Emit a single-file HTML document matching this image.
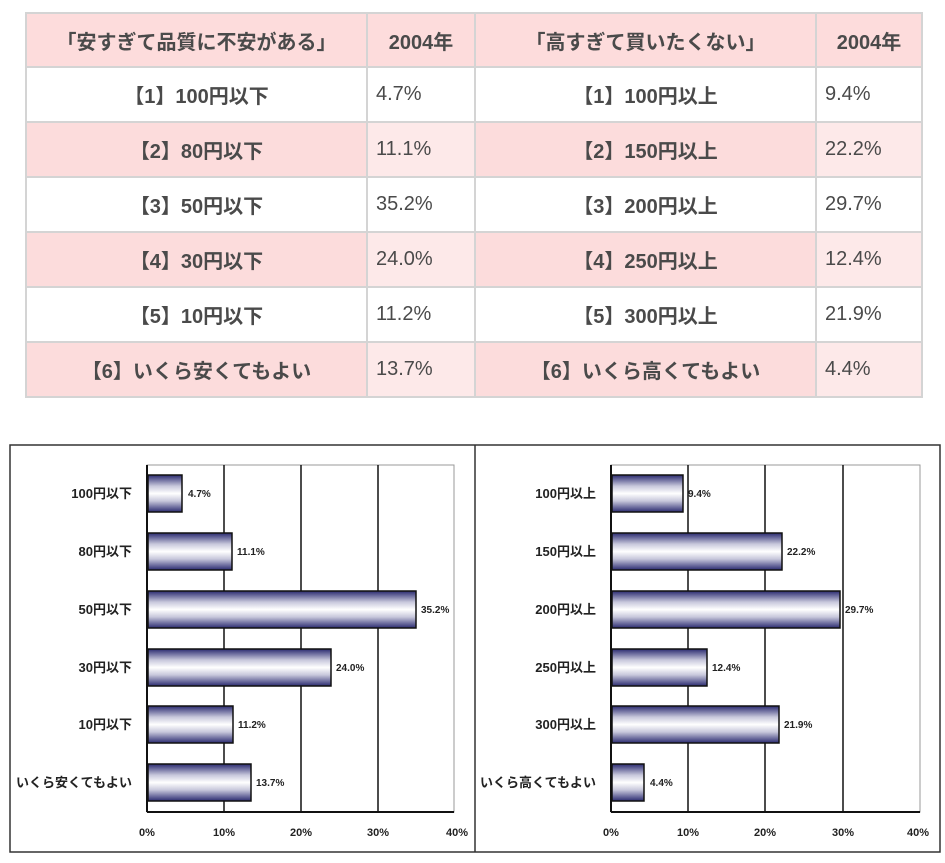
<!DOCTYPE html>
<html><head><meta charset="utf-8"><style>
body{margin:0;width:945px;height:863px;background:#fff;position:relative;overflow:hidden;font-family:"Liberation Sans","Noto Sans CJK JP",sans-serif;}
table{position:absolute;left:25px;top:12px;border-collapse:collapse;}
td{border:2px solid #d4d4d4;height:53px;font-size:20px;color:#4a4a4a;padding:0;}
tr.h td{height:52px;}
td.l{text-align:center;font-weight:bold;}
td.v{padding-left:8px;}
tr.h td{background:#fddcdc;font-weight:bold;}
tr.p td.l{background:#fcdcdc;}
tr.p td.v{background:#fde9e9;}
</style></head><body>
<table>
<colgroup><col style="width:341px"><col style="width:108px"><col style="width:341px"><col style="width:106px"></colgroup>
<tr class="h"><td class="l">「安すぎて品質に不安がある」</td><td class="l">2004年</td><td class="l">「高すぎて買いたくない」</td><td class="l">2004年</td></tr>
<tr><td class="l">【1】100円以下</td><td class="v">4.7%</td><td class="l">【1】100円以上</td><td class="v">9.4%</td></tr>
<tr class="p"><td class="l">【2】80円以下</td><td class="v">11.1%</td><td class="l">【2】150円以上</td><td class="v">22.2%</td></tr>
<tr><td class="l">【3】50円以下</td><td class="v">35.2%</td><td class="l">【3】200円以上</td><td class="v">29.7%</td></tr>
<tr class="p"><td class="l">【4】30円以下</td><td class="v">24.0%</td><td class="l">【4】250円以上</td><td class="v">12.4%</td></tr>
<tr><td class="l">【5】10円以下</td><td class="v">11.2%</td><td class="l">【5】300円以上</td><td class="v">21.9%</td></tr>
<tr class="p"><td class="l">【6】いくら安くてもよい</td><td class="v">13.7%</td><td class="l">【6】いくら高くてもよい</td><td class="v">4.4%</td></tr>
</table>
<svg width="945" height="863" style="position:absolute;left:0;top:0" font-family="Liberation Sans, Noto Sans CJK JP, sans-serif" font-weight="bold">
<defs><linearGradient id="g" x1="0" y1="0" x2="0" y2="1">
<stop offset="0" stop-color="#2a2a70"/><stop offset="0.3" stop-color="#c8c8dc"/><stop offset="0.5" stop-color="#fff"/><stop offset="0.7" stop-color="#c8c8dc"/><stop offset="1" stop-color="#2a2a70"/></linearGradient></defs>
<rect x="10" y="445" width="930" height="407" fill="none" stroke="#333" stroke-width="1.5"/>
<line x1="475" y1="445" x2="475" y2="852" stroke="#333" stroke-width="1.5"/>
<g font-size="11" fill="#222">
<rect x="147" y="465" width="307" height="347" fill="none" stroke="#999"/>
<line x1="224" y1="465" x2="224" y2="812" stroke="#111" stroke-width="1.5"/>
<line x1="301" y1="465" x2="301" y2="812" stroke="#111" stroke-width="1.5"/>
<line x1="378" y1="465" x2="378" y2="812" stroke="#111" stroke-width="1.5"/>
<line x1="147" y1="465" x2="147" y2="812" stroke="#111" stroke-width="2"/>
<line x1="147" y1="812" x2="454" y2="812" stroke="#111" stroke-width="2"/>
<rect x="148" y="475" width="34" height="37" fill="url(#g)" stroke="#111" stroke-width="1.5"/>
<rect x="148" y="533" width="84" height="37" fill="url(#g)" stroke="#111" stroke-width="1.5"/>
<rect x="148" y="591" width="268" height="37" fill="url(#g)" stroke="#111" stroke-width="1.5"/>
<rect x="148" y="649" width="183" height="37" fill="url(#g)" stroke="#111" stroke-width="1.5"/>
<rect x="148" y="706" width="85" height="37" fill="url(#g)" stroke="#111" stroke-width="1.5"/>
<rect x="148" y="764" width="103" height="37" fill="url(#g)" stroke="#111" stroke-width="1.5"/>
<g font-size="10"><text x="188" y="497">4.7%</text><text x="237" y="555">11.1%</text><text x="421" y="613">35.2%</text><text x="336" y="671">24.0%</text><text x="238" y="728">11.2%</text><text x="256" y="786">13.7%</text></g>
<g text-anchor="end" font-size="13"><text x="132" y="498">100円以下</text><text x="132" y="556">80円以下</text><text x="132" y="614">50円以下</text><text x="132" y="672">30円以下</text><text x="132" y="729">10円以下</text><text x="132" y="787">いくら安くてもよい</text></g>
<g text-anchor="middle" font-size="11"><text x="147" y="836">0%</text><text x="224" y="836">10%</text><text x="301" y="836">20%</text><text x="378" y="836">30%</text><text x="457" y="836">40%</text></g>
</g>
<g font-size="11" fill="#222">
<rect x="611" y="465" width="309" height="347" fill="none" stroke="#999"/>
<line x1="688" y1="465" x2="688" y2="812" stroke="#111" stroke-width="1.5"/>
<line x1="765" y1="465" x2="765" y2="812" stroke="#111" stroke-width="1.5"/>
<line x1="843" y1="465" x2="843" y2="812" stroke="#111" stroke-width="1.5"/>
<line x1="611" y1="465" x2="611" y2="812" stroke="#111" stroke-width="2"/>
<line x1="611" y1="812" x2="920" y2="812" stroke="#111" stroke-width="2"/>
<rect x="612" y="475" width="71" height="37" fill="url(#g)" stroke="#111" stroke-width="1.5"/>
<rect x="612" y="533" width="170" height="37" fill="url(#g)" stroke="#111" stroke-width="1.5"/>
<rect x="612" y="591" width="228" height="37" fill="url(#g)" stroke="#111" stroke-width="1.5"/>
<rect x="612" y="649" width="95" height="37" fill="url(#g)" stroke="#111" stroke-width="1.5"/>
<rect x="612" y="706" width="167" height="37" fill="url(#g)" stroke="#111" stroke-width="1.5"/>
<rect x="612" y="764" width="32" height="37" fill="url(#g)" stroke="#111" stroke-width="1.5"/>
<g font-size="10"><text x="688" y="497">9.4%</text><text x="787" y="555">22.2%</text><text x="845" y="613">29.7%</text><text x="712" y="671">12.4%</text><text x="784" y="728">21.9%</text><text x="650" y="786">4.4%</text></g>
<g text-anchor="end" font-size="13"><text x="596" y="498">100円以上</text><text x="596" y="556">150円以上</text><text x="596" y="614">200円以上</text><text x="596" y="672">250円以上</text><text x="596" y="729">300円以上</text><text x="596" y="787">いくら高くてもよい</text></g>
<g text-anchor="middle" font-size="11"><text x="611" y="836">0%</text><text x="688" y="836">10%</text><text x="765" y="836">20%</text><text x="843" y="836">30%</text><text x="918" y="836">40%</text></g>
</g>
</svg>
</body></html>
